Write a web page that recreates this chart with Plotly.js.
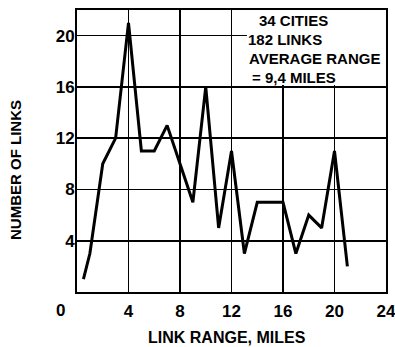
<!DOCTYPE html>
<html>
<head>
<meta charset="utf-8">
<script src="https://cdn.plot.ly/plotly-3.0.1.min.js"></script>
<style>html,body{margin:0;padding:0;background:#fff;}#chart{width:395px;height:347px;}</style>
</head>
<body>
<div id="chart"></div>
<script>
// Data
var linkRange = [0.5, 1, 2, 3, 4, 5, 6, 7, 8, 9, 10, 11, 12, 13, 14, 15, 16, 17, 18, 19, 20, 21];
var numberOfLinks = [1, 3, 10, 12, 21, 11, 11, 13, 10, 7, 16, 5, 11, 3, 7, 7, 7, 3, 6, 5, 11, 2];
var xTickVals = [4, 8, 12, 16, 20, 24];
var xTickText = ['4', '8', '12', '16', '20', '24'];
var yTickVals = [4, 8, 12, 16, 20];
var yTickText = ['4', '8', '12', '16', '20'];
var boxLines = ['34 CITIES', '182 LINKS', 'AVERAGE RANGE', '= 9,4 MILES'];
var boxLineX = [14.0, 13.1, 13.2, 13.4];
var boxLineY = [21.15, 19.72, 18.25, 16.7];

var FONT = 'Liberation Sans, Arial, sans-serif';

var trace = {
  x: linkRange,
  y: numberOfLinks,
  type: 'scatter',
  mode: 'lines',
  line: {color: '#000', width: 3},
  hoverinfo: 'skip'
};

var annotations = [];
for (var i = 0; i < boxLines.length; i++) {
  annotations.push({
    x: boxLineX[i], y: boxLineY[i], xref: 'x', yref: 'y',
    xanchor: 'left', yanchor: 'middle', showarrow: false,
    text: boxLines[i],
    font: {family: FONT, size: 15, color: '#000', weight: 700}
  });
}
annotations.push({
  x: -0.054, y: -0.065, xref: 'paper', yref: 'paper',
  xanchor: 'center', yanchor: 'middle', showarrow: false,
  text: '0', font: {family: FONT, size: 17, color: '#000', weight: 700}
});
annotations.push({
  x: 0.484, y: -0.16, xref: 'paper', yref: 'paper',
  xanchor: 'center', yanchor: 'middle', showarrow: false,
  text: 'LINK RANGE, MILES', font: {family: FONT, size: 16, color: '#000', weight: 700}
});
annotations.push({
  x: -0.199, y: 0.431, xref: 'paper', yref: 'paper',
  xanchor: 'center', yanchor: 'middle', showarrow: false, textangle: -90,
  text: 'NUMBER OF LINKS', font: {family: FONT, size: 15, color: '#000', weight: 700}
});

var layout = {
  width: 395, height: 347,
  margin: {l: 77, r: 9, t: 10, b: 55, pad: 0},
  paper_bgcolor: '#fff', plot_bgcolor: '#fff',
  showlegend: false,
  font: {family: FONT, color: '#000'},
  xaxis: {
    range: [0, 24], tickvals: xTickVals, ticktext: xTickText,
    showgrid: true, gridcolor: '#000', gridwidth: 1.6,
    zeroline: false, showline: true, linecolor: '#000', linewidth: 2, mirror: true,
    ticks: '', ticklabelstandoff: 3, ticklabeloverflow: 'allow',
    tickfont: {family: FONT, size: 17, color: '#000', weight: 700},
    fixedrange: true
  },
  yaxis: {
    range: [0, 22], tickvals: yTickVals, ticktext: yTickText,
    showgrid: true, gridcolor: '#000', gridwidth: 1.6,
    zeroline: false, showline: true, linecolor: '#000', linewidth: 2, mirror: true,
    ticks: '', ticklabelstandoff: -3,
    tickfont: {family: FONT, size: 17, color: '#000', weight: 700},
    fixedrange: true
  },
  shapes: [{
    type: 'rect', xref: 'x', yref: 'y', x0: 13.2, x1: 24, y0: 16.15, y1: 22,
    fillcolor: '#fff', line: {width: 0}, layer: 'between'
  }],
  annotations: annotations
};

Plotly.newPlot('chart', [trace], layout, {displayModeBar: false, staticPlot: true});
</script>
</body>
</html>
